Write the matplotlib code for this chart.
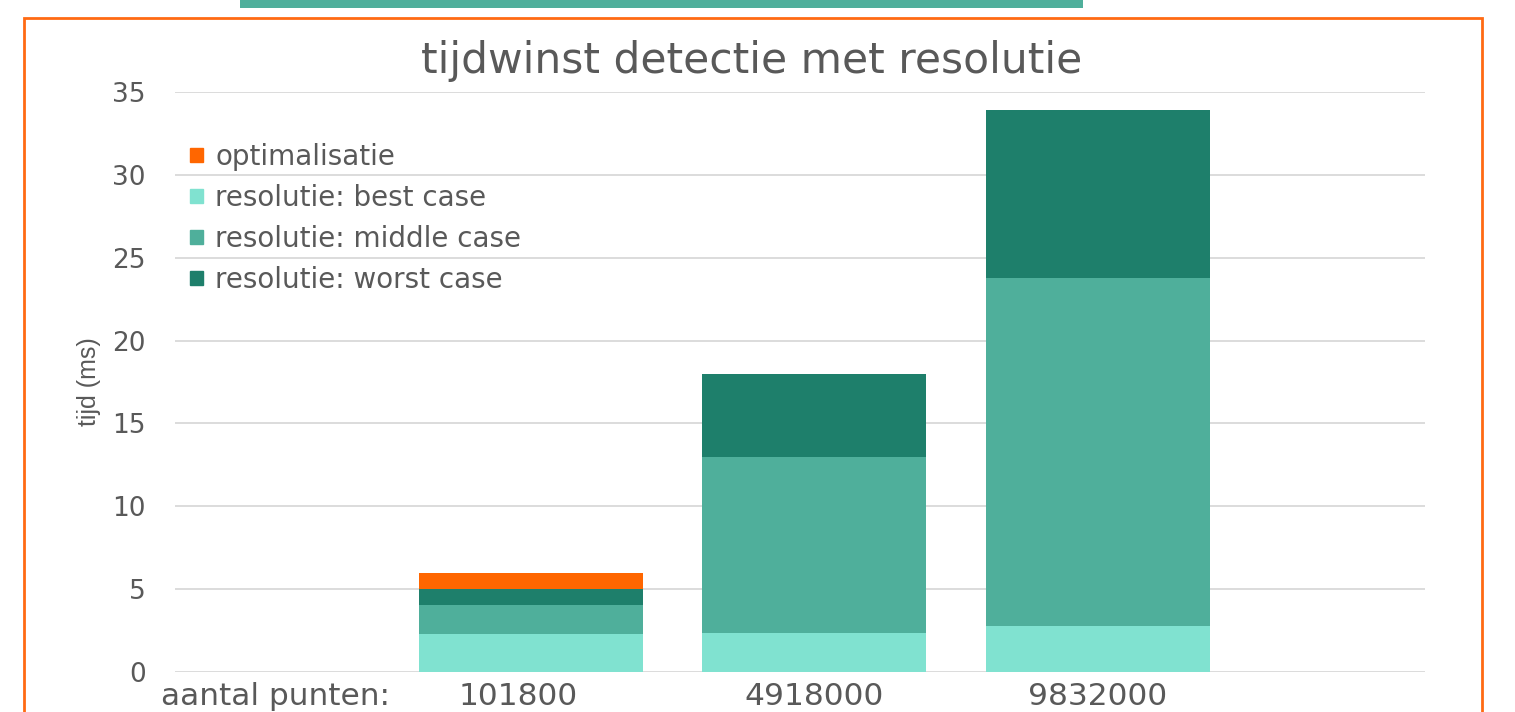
import matplotlib
matplotlib.use("Agg")
import matplotlib.pyplot as plt
from matplotlib.patches import Rectangle
import matplotlib.transforms as mtransforms
import numpy as np

plt.rcParams['font.family'] = ['DejaVu Sans']

# Data
categories = ["aantal punten:", "101800", "4918000", "9832000"]
best_case = [0.0, 2.3, 2.35, 2.8]
middle_case = [0.0, 1.75, 10.6, 21.0]    # stacked on best case
worst_case = [0.0, 0.95, 5.05, 10.1]     # stacked on middle case
optimalisatie = [0.0, 1.0, 0.0, 0.0]     # stacked on worst case

series_labels = ["optimalisatie", "resolutie: best case",
                 "resolutie: middle case", "resolutie: worst case"]
yticks = [0, 5, 10, 15, 20, 25, 30, 35]

c_opt = "#FF6600"
c_best = "#80E2D0"
c_mid = "#4FAF9B"
c_worst = "#1E7F6B"
txt = "#595959"
grid_c = "#D9D9D9"

fig = plt.figure(figsize=(15.15, 7.12), dpi=100)
fig.patch.set_facecolor("white")

# slide decorations: teal strip above, orange frame around the chart
fig.patches.append(Rectangle((240 / 1515, 1 - 8 / 712), (1083 - 240) / 1515, 0.02,
                             transform=fig.transFigure, facecolor=c_mid,
                             edgecolor="none", zorder=0))
fig.patches.append(Rectangle((24 / 1515, -0.05), (1482 - 24) / 1515, 1 - 18 / 712 + 0.05,
                             transform=fig.transFigure, facecolor="none",
                             edgecolor="#FF6A13", linewidth=2, zorder=0))

ax = fig.add_axes([175 / 1515, 1 - 672 / 712, (1425 - 175) / 1515, (672 - 92) / 712])
ax.set_facecolor("none")

x = np.arange(len(categories))
w = 0.79
b1 = np.array(best_case)
b2 = b1 + np.array(middle_case)
b3 = b2 + np.array(worst_case)

ax.bar(x, best_case, w, color=c_best, zorder=3)
ax.bar(x, middle_case, w, bottom=b1, color=c_mid, zorder=3)
ax.bar(x, worst_case, w, bottom=b2, color=c_worst, zorder=3)
ax.bar(x, optimalisatie, w, bottom=b3, color=c_opt, zorder=3)

ax.set_ylim(0, 35)
ax.set_xlim(-0.254, 4.155)
ax.set_yticks(yticks)
ax.set_yticklabels([str(v) for v in yticks])
ax.yaxis.grid(True, color=grid_c, linewidth=1.3, zorder=0)
ax.set_axisbelow(True)
for s in ax.spines.values():
    s.set_visible(False)
ax.tick_params(axis="both", length=0, colors=txt)
ax.tick_params(axis="y", pad=21, labelsize=19)
ax.tick_params(axis="x", pad=7, labelsize=22.5)
ax.set_xticks(x)
ax.set_xticklabels(categories)
# nudge the first two category labels horizontally (in pixels)
for lbl, dx in zip(ax.get_xticklabels()[:2], (28, -12)):
    lbl.set_transform(lbl.get_transform() +
                      mtransforms.ScaledTranslation(dx / 100, 0, fig.dpi_scale_trans))

ax.set_ylabel("tijd (ms)", color=txt, fontsize=18, family="Liberation Sans",
              labelpad=8)

fig.text(752 / 1515, 1 - 61 / 712, "tijdwinst detectie met resolutie",
         ha="center", va="center", color=txt, fontsize=30.5)

# legend
handles = [Rectangle((0, 0), 1, 1, color=c) for c in (c_opt, c_best, c_mid, c_worst)]
leg = ax.legend(handles, series_labels, loc="upper left",
                bbox_to_anchor=(4 / 1250, 1 - 40 / 580),
                frameon=False, fontsize=20, handlelength=0.47, handleheight=0.4,
                handletextpad=0.43, labelspacing=0.47, borderaxespad=0)
for t in leg.get_texts():
    t.set_color(txt)

fig.savefig("out.png", dpi=100, facecolor="white")
